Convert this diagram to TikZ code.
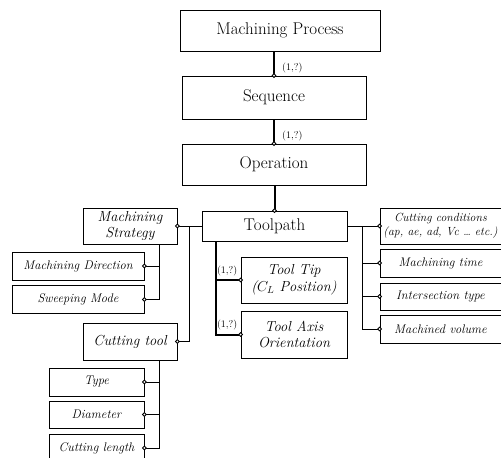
\documentclass[tikz,border=0pt]{standalone}
\usetikzlibrary{arrows.meta}
\begin{document}
\begin{tikzpicture}[x=1pt, y=-1pt,
    box/.style={draw=black, line width=0.9pt, align=center, inner sep=0pt, font=\fontsize{17}{19}\selectfont},
    ibox/.style={box, font=\fontsize{14.5}{16.5}\selectfont\itshape},
    sbox/.style={box, font=\fontsize{12.5}{14}\selectfont\itshape},
    ring/.style={-{Circle[open, fill=white, line width=0.9pt, length=4.6pt, width=4.6pt]}, shorten >=-2.3pt},
    lnk/.style={ring, line width=2pt},
    sublnk/.style={ring, line width=0.8pt},
    card/.style={font=\fontsize{10}{11}\selectfont, inner sep=0pt}]
  \clip (0,0) rectangle (501,458);
  \begin{scope}[every node/.style={box}]
    \node[minimum width=200pt, minimum height=41pt] (proc) at (280,30.5) {Machining Process};
    \node[minimum width=184pt, minimum height=43pt] (seq) at (274,97.5) {Sequence};
    \node[minimum width=184pt, minimum height=41pt] (op) at (274,164.5) {Operation};
    \node[minimum width=145pt, minimum height=30pt] (tp) at (274.5,226) {Toolpath};
  \end{scope}
  \begin{scope}[every node/.style={ibox}]
    \node[minimum width=94pt, minimum height=36pt] (strat) at (130,226) {Machining\\Strategy};
    \node[minimum width=94pt, minimum height=37pt] (ctool) at (130,341.5) {Cutting tool};
    \node[minimum width=106pt, minimum height=46pt] (tip) at (294,280) {Tool Tip\\(\upshape$C_L$\itshape\ Position)};
    \node[minimum width=106pt, minimum height=47pt] (axis) at (294,334.5) {Tool Axis\\Orientation};
  \end{scope}
  \begin{scope}[every node/.style={sbox, minimum height=28pt}]
    \node[minimum width=132pt] (mdir) at (78,266) {Machining Direction};
    \node[minimum width=132pt] (sweep) at (78,299.5) {Sweeping Mode};
    \node[minimum width=95pt] (type) at (96.5,382) {Type};
    \node[minimum width=95pt, minimum height=27pt] (diam) at (96.5,414.5) {Diameter};
    \node[minimum width=95pt] (clen) at (96.5,448) {Cutting length};
    \node[minimum width=121pt, minimum height=36pt, font=\fontsize{11.8}{14}\selectfont\itshape] (cc) at (440.5,226) {Cutting conditions\\(ap, ae, ad, Vc \ldots\ etc.)};
    \node[minimum width=121pt] (mtime) at (440.5,263) {Machining time};
    \node[minimum width=121pt, minimum height=27pt] (itype) at (440.5,296.5) {Intersection type};
    \node[minimum width=121pt] (mvol) at (440.5,329) {Machined volume};
  \end{scope}
  \coordinate (lj) at (189,226);
  \coordinate (sj) at (159,244);
  \coordinate (cj) at (159,360);
  \coordinate (tj) at (216,241);
  \coordinate (rj) at (362,226);
  \begin{scope}
    \draw[lnk] (seq.north |- proc.south) -- (seq.north);
    \draw[lnk] (op.north |- seq.south) -- (op.north);
    \draw[lnk] (tp.north |- op.south) -- (tp.north);
    \draw[lnk] (tj) |- (tip.west);
    \draw[lnk] (tj) |- (axis.west);
  \end{scope}
  \begin{scope}
    \draw[sublnk] (tp.west) -- (strat.east);
    \draw[sublnk] (lj) |- (ctool.east);
    \draw[sublnk] (sj) |- (mdir.east);
    \draw[sublnk] (sj) |- (sweep.east);
    \draw[sublnk] (cj) |- (type.east);
    \draw[sublnk] (cj) |- (diam.east);
    \draw[sublnk] (cj) |- (clen.east);
    \draw[sublnk] (tp.east) -- (cc.west);
    \draw[sublnk] (rj) |- (mtime.west);
    \draw[sublnk] (rj) |- (itype.west);
    \draw[sublnk] (rj) |- (mvol.west);
  \end{scope}
  \begin{scope}[every node/.style={card}]
    \node[anchor=south west, xshift=8pt, yshift=2pt] (m1) at (seq.north) {(1,?)};
    \node[anchor=south west, xshift=8pt, yshift=2pt] (m2) at (op.north) {(1,?)};
    \node[anchor=south east, xshift=-3pt, yshift=4pt] (m3) at (tip.west) {(1,?)};
    \node[anchor=south east, xshift=-3pt, yshift=4pt] (m4) at (axis.west) {(1,?)};
  \end{scope}
\end{tikzpicture}
\end{document}
